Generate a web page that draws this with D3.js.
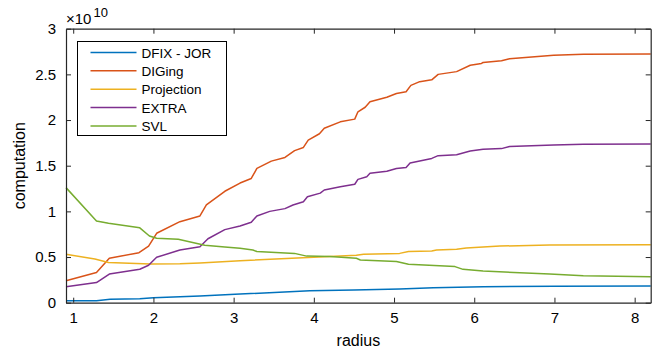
<!DOCTYPE html>
<html>
<head>
<meta charset="utf-8">
<script src="https://cdn.jsdelivr.net/npm/d3@7"></script>
<style>
  body { margin: 0; background: #fff; }
  svg { font-family: "Liberation Sans", Arial, Helvetica, sans-serif; }
</style>
</head>
<body>
<svg width="667" height="352"></svg>
<script>
// values in units of 1e10, x = radius
const dfixJor = [[0.91,0.022],[1.29,0.022],[1.46,0.037],[1.83,0.044],[2.0,0.055],[2.58,0.073],[3.08,0.094],[3.95,0.13],[4.5,0.14],[5.07,0.15],[5.49,0.164],[6.11,0.175],[7.0,0.181],[8.2,0.183]];
const diging = [[0.91,0.24],[1.29,0.33],[1.45,0.486],[1.82,0.548],[1.94,0.62],[2.04,0.76],[2.33,0.887],[2.58,0.95],[2.66,1.07],[2.89,1.22],[3.08,1.31],[3.22,1.36],[3.29,1.47],[3.47,1.55],[3.64,1.59],[3.76,1.665],[3.87,1.70],[3.93,1.78],[4.07,1.85],[4.13,1.91],[4.33,1.98],[4.51,2.01],[4.55,2.09],[4.64,2.14],[4.70,2.20],[4.91,2.25],[5.03,2.29],[5.15,2.31],[5.21,2.38],[5.32,2.42],[5.47,2.44],[5.55,2.50],[5.78,2.53],[5.95,2.60],[6.09,2.62],[6.11,2.63],[6.34,2.65],[6.44,2.67],[6.99,2.71],[7.36,2.72],[8.2,2.724]];
const projection = [[0.91,0.53],[1.27,0.478],[1.44,0.44],[1.96,0.425],[2.33,0.427],[2.58,0.435],[3.08,0.46],[4.2,0.505],[4.53,0.52],[4.62,0.53],[5.07,0.54],[5.18,0.56],[5.47,0.566],[5.53,0.577],[5.78,0.585],[5.9,0.60],[6.32,0.62],[6.94,0.632],[8.2,0.635]];
const extra = [[0.91,0.175],[1.29,0.22],[1.45,0.314],[1.83,0.366],[1.94,0.41],[2.04,0.497],[2.33,0.577],[2.58,0.613],[2.68,0.70],[2.89,0.80],[3.08,0.84],[3.22,0.88],[3.29,0.95],[3.45,1.0],[3.64,1.03],[3.74,1.07],[3.87,1.106],[3.92,1.16],[4.08,1.20],[4.13,1.234],[4.33,1.27],[4.51,1.297],[4.55,1.35],[4.66,1.38],[4.70,1.417],[4.91,1.44],[5.03,1.47],[5.15,1.48],[5.20,1.53],[5.47,1.58],[5.55,1.61],[5.78,1.62],[5.95,1.66],[6.11,1.68],[6.34,1.687],[6.44,1.71],[6.99,1.727],[7.36,1.735],[8.2,1.738]];
const svl = [[0.91,1.26],[1.29,0.895],[1.44,0.87],[1.83,0.82],[1.95,0.73],[2.04,0.705],[2.31,0.695],[2.64,0.63],[2.89,0.61],[3.08,0.595],[3.24,0.577],[3.29,0.56],[3.76,0.54],[3.91,0.51],[4.2,0.505],[4.53,0.486],[4.58,0.468],[5.03,0.45],[5.18,0.42],[5.76,0.395],[5.86,0.365],[6.11,0.347],[6.94,0.314],[7.36,0.296],[8.2,0.285]];

const seriesNames = ["DFIX - JOR", "DIGing", "Projection", "EXTRA", "SVL"];
const seriesData = [dfixJor, diging, projection, extra, svl];
const seriesColors = ["#0072BD", "#D95319", "#EDB120", "#7E2F8E", "#77AC30"];
const xTicks = [1, 2, 3, 4, 5, 6, 7, 8];
const yTicks = [0, 0.5, 1, 1.5, 2, 2.5, 3];

const plotL = 66, plotR = 650.7, plotT = 28.7, plotB = 302.7;
const svg = d3.select("svg");

const x = d3.scaleLinear().domain([0.91, 8.2]).range([plotL, plotR]);
const y = d3.scaleLinear().domain([0, 3]).range([plotB, plotT]);

const axisColor = "#262626";

// data lines
const line = d3.line().x(d => x(d[0])).y(d => y(d[1]));
seriesData.forEach((s, i) => {
  svg.append("path")
    .attr("d", line(s))
    .attr("fill", "none")
    .attr("stroke", seriesColors[i])
    .attr("stroke-width", 1.5)
    .attr("stroke-linejoin", "round");
});

// axes (box on, ticks inside)
const fmt = d => String(d);
svg.append("g").attr("transform", `translate(0,${plotB})`)
  .call(d3.axisBottom(x).tickValues(xTicks).tickSizeInner(-5).tickSizeOuter(0).tickPadding(10).tickFormat(fmt));
svg.append("g").attr("transform", `translate(0,${plotT})`)
  .call(d3.axisTop(x).tickValues(xTicks).tickSizeInner(-5).tickSizeOuter(0).tickFormat(""));
svg.append("g").attr("transform", `translate(${plotL},0)`)
  .call(d3.axisLeft(y).tickValues(yTicks).tickSizeInner(-5).tickSizeOuter(0).tickPadding(10).tickFormat(fmt));
svg.append("g").attr("transform", `translate(${plotR},0)`)
  .call(d3.axisRight(y).tickValues(yTicks).tickSizeInner(-5).tickSizeOuter(0).tickFormat(""));

svg.selectAll(".domain").attr("stroke", axisColor).attr("stroke-width", 1.2);
svg.selectAll(".tick line").attr("stroke", axisColor).attr("stroke-width", 1);
svg.selectAll(".tick text").attr("fill", "#000").style("font-size", "15px")
  .style("font-family", "'Liberation Sans', Arial, sans-serif");

// axis labels
svg.append("text").attr("x", (plotL + plotR) / 2).attr("y", 346)
  .attr("text-anchor", "middle").style("font-size", "16px").text("radius");
svg.append("text").attr("transform", `translate(25,${(plotT + plotB) / 2}) rotate(-90)`)
  .attr("text-anchor", "middle").style("font-size", "16px").text("computation");

// exponent label
const expo = svg.append("text").attr("x", 66).attr("y", 24).style("font-size", "15px");
expo.append("tspan").text("×10");
expo.append("tspan").attr("dx", 2).attr("dy", -7).style("font-size", "13px").text("10");

// legend
const lg = svg.append("g");
lg.append("rect").attr("x", 77.5).attr("y", 41.5).attr("width", 149).attr("height", 94)
  .attr("fill", "#fff").attr("stroke", "#000").attr("stroke-width", 1);
seriesNames.forEach((name, i) => {
  const cy = 52.5 + i * 18.35;
  lg.append("line").attr("x1", 90.5).attr("x2", 136.5).attr("y1", cy).attr("y2", cy)
    .attr("stroke", seriesColors[i]).attr("stroke-width", 1.5);
  lg.append("text").attr("x", 141.5).attr("y", cy + 5).style("font-size", "13.5px").text(name);
});
</script>
</body>
</html>
